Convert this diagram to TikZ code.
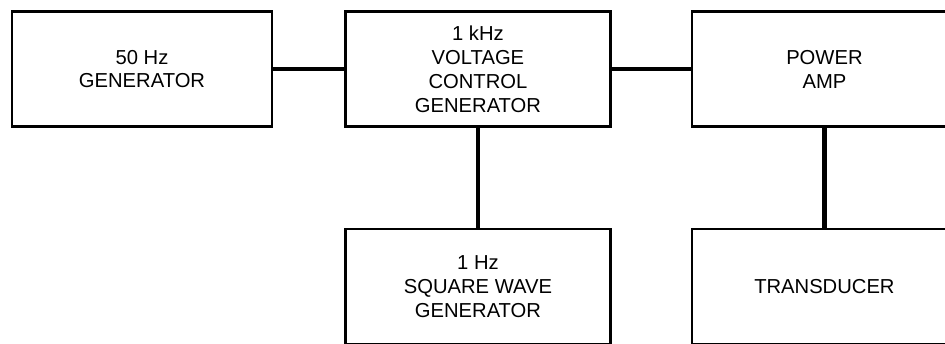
\documentclass[tikz,border=0pt]{standalone}
\usepackage{fontspec}
\setmainfont{Liberation Sans}
\usetikzlibrary{positioning}

\begin{document}
\begin{tikzpicture}[
  block/.style={draw, line width=1.4pt, minimum height=2.3cm,
                minimum width=5.3cm, align=center,
                font=\fontsize{11.5}{13.6}\selectfont},
  link/.style={line width=2.4pt},
  node distance=1.42cm
]
\clip (0,0) rectangle (18.9,-6.86);
\node[block, minimum width=5.2cm] (gen50) at (2.84,-1.38) {50 Hz\\GENERATOR};
\node[block, right=of gen50] (vcg) {1 kHz\\VOLTAGE\\CONTROL\\GENERATOR};
\node[block, right=1.58cm of vcg] (amp) {POWER\\AMP};
\node[block, below=2.0cm of vcg] (sqw) {1 Hz\\SQUARE WAVE\\GENERATOR};
\node[block, below=2.0cm of amp] (trans) {TRANSDUCER};

\draw[link] (gen50) -- (vcg);
\draw[link] (vcg) -- (amp);
\draw[link] (vcg) -- (sqw);
\draw[link] (amp) -- (trans);
\end{tikzpicture}
\end{document}
